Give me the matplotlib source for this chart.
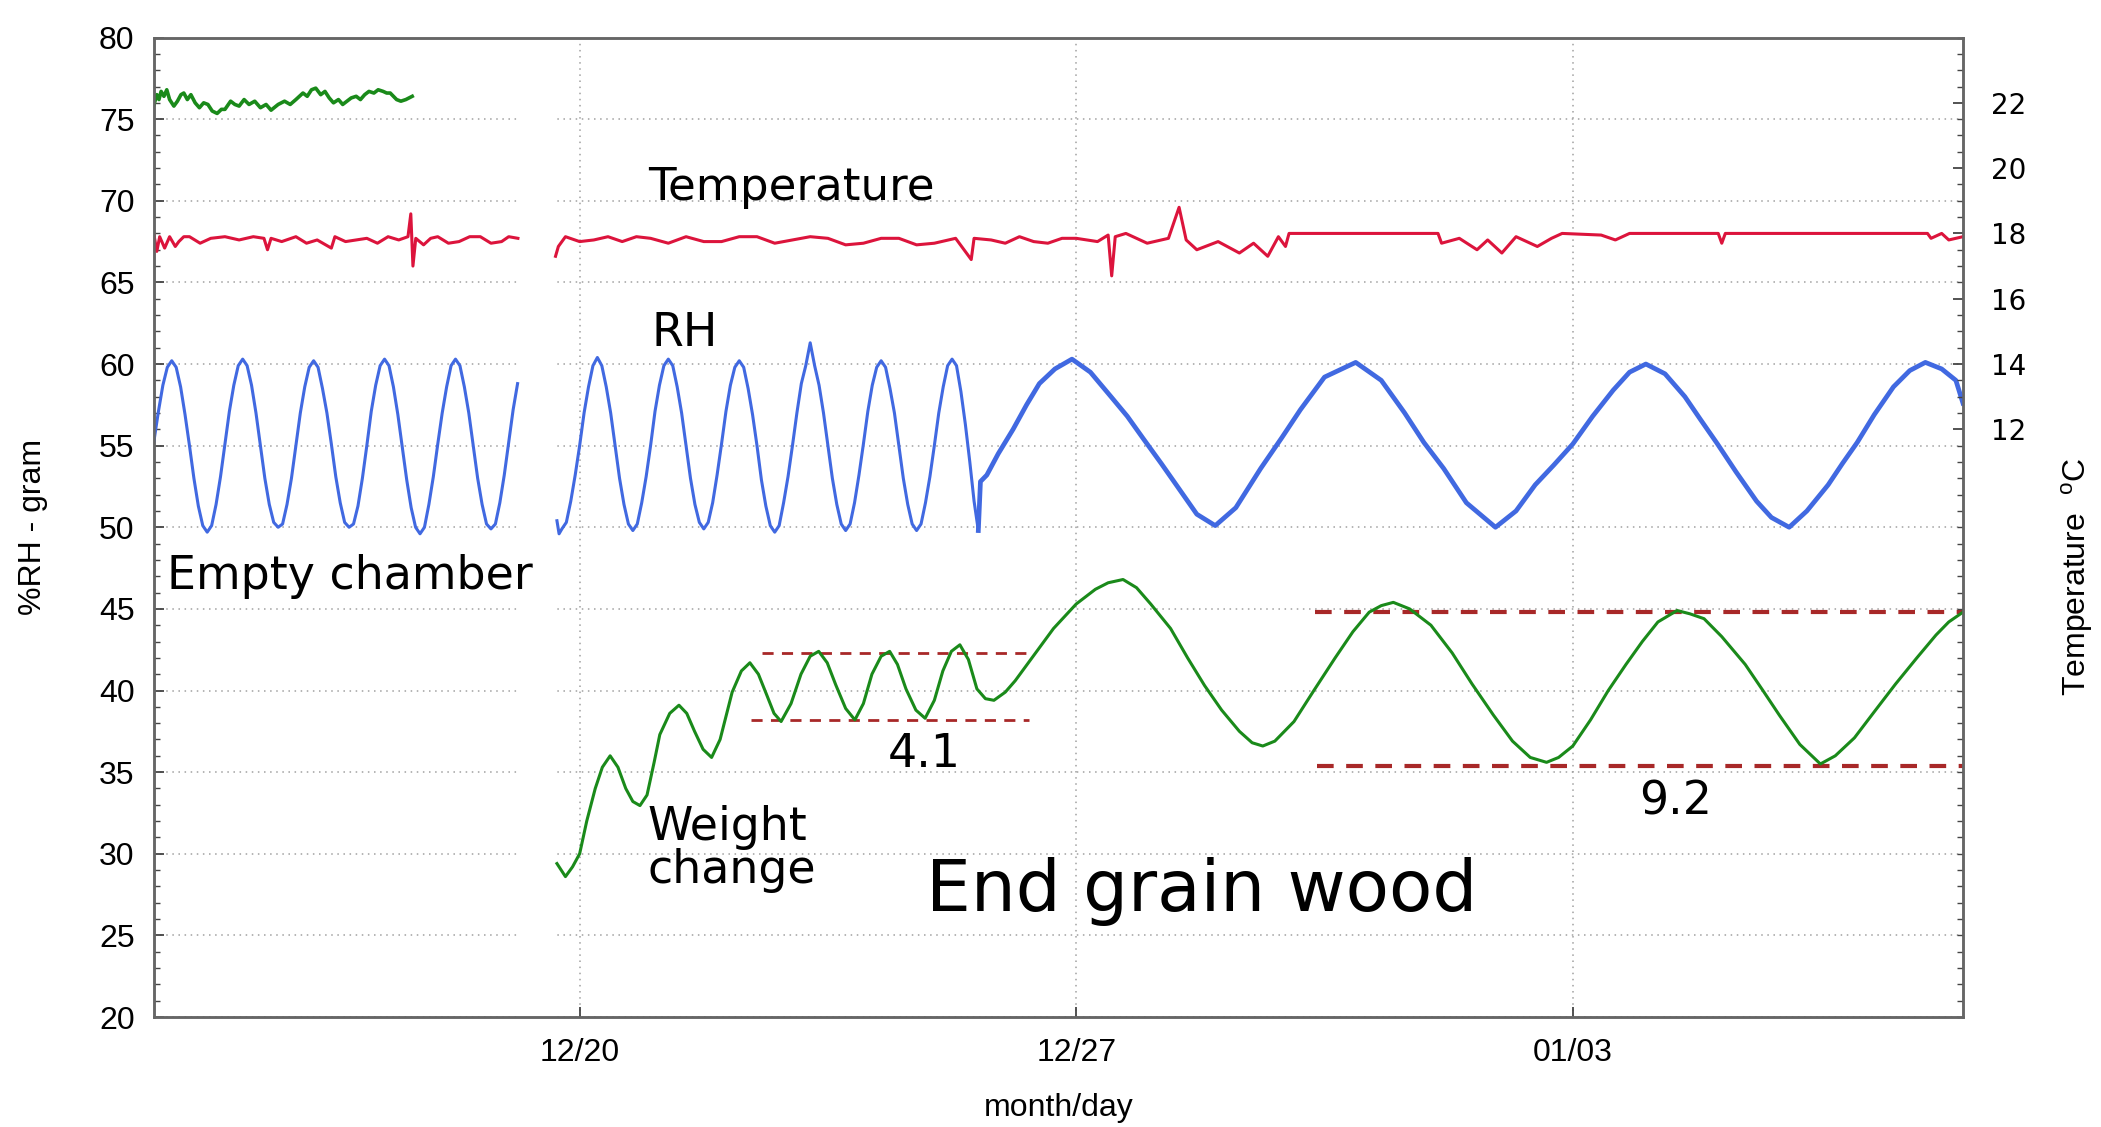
import numpy as np
import pandas as pd
import matplotlib
matplotlib.use("Agg")
import matplotlib.pyplot as plt
import matplotlib.dates as mdates
from matplotlib.ticker import MultipleLocator

plt.rcParams['mathtext.fontset'] = 'custom'
plt.rcParams['mathtext.rm'] = 'Liberation Sans'

# time axis: days after 12/14 00:00
START = pd.Timestamp('2016-12-14')
XMAX = 25.5

# ---- RH (%), fast daily cycles, read every 1.5 h ----
rh1_t = np.arange(0, 5.126, 0.0625)
rh1_v = [55.3, 57.1, 58.7, 59.8, 60.2, 59.8, 58.6, 56.9, 55.0, 53.0, 51.3, 50.1, 49.7, 50.1, 51.4, 53.1,
         55.1, 57.1, 58.7, 59.9, 60.3, 59.9, 58.7, 57.0, 55.0, 53.0, 51.4, 50.3, 50.0, 50.2, 51.4, 53.0,
         55.0, 57.0, 58.6, 59.8, 60.2, 59.8, 58.5, 57.0, 55.1, 53.1, 51.5, 50.3, 50.0, 50.2, 51.3, 53.0,
         55.0, 57.1, 58.7, 59.9, 60.3, 59.9, 58.6, 56.9, 54.9, 52.9, 51.2, 50.0, 49.6, 50.0, 51.4, 53.1,
         55.1, 57.0, 58.6, 59.9, 60.3, 59.9, 58.6, 57.0, 55.0, 53.0, 51.4, 50.2, 49.9, 50.2, 51.5, 53.2,
         55.2, 57.2, 58.8]

rh2_t = [5.68, 5.71] + list(np.arange(5.75, 11.501, 0.0625)) + [11.56, 11.62]
rh2_v = [50.4, 49.6,
         49.9, 50.3, 51.6, 53.2,
         55.0, 57.0, 58.6, 59.9, 60.4, 59.9, 58.6, 57.0, 55.0, 53.0, 51.4, 50.2, 49.8, 50.2, 51.5, 53.1,
         55.0, 57.1, 58.7, 59.9, 60.3, 59.9, 58.6, 57.0, 55.0, 53.0, 51.4, 50.3, 49.9, 50.3, 51.5, 53.2,
         55.1, 57.1, 58.7, 59.8, 60.2, 59.8, 58.5, 56.9, 55.0, 52.9, 51.3, 50.1, 49.7, 50.1, 51.5, 53.1,
         55.0, 57.0, 58.8, 59.9, 61.3, 59.9, 58.7, 57.0, 55.0, 53.0, 51.4, 50.2, 49.8, 50.2, 51.5, 53.2,
         55.1, 57.1, 58.7, 59.8, 60.2, 59.8, 58.5, 57.0, 55.0, 53.0, 51.4, 50.2, 49.8, 50.2, 51.5, 53.1,
         55.0, 57.0, 58.6, 59.9, 60.3, 59.9, 58.3, 56.3, 54.0,
         51.6, 49.8]

# ---- RH (%), slow 4-day cycles ----
rh3_t = [11.62, 11.65, 11.74, 11.9, 12.11, 12.3, 12.48, 12.7, 12.94, 13.2,
         13.49, 13.72, 13.95, 14.2, 14.41, 14.7, 14.96, 15.25, 15.6, 15.9,
         16.16, 16.5, 16.94, 17.3, 17.63, 17.9, 18.18, 18.5, 18.91, 19.2,
         19.47, 19.73, 20.0, 20.28, 20.57, 20.8, 21.03, 21.3, 21.58, 21.8,
         22.04, 22.3, 22.59, 22.8, 23.05, 23.3, 23.6, 23.8, 24.01, 24.25,
         24.52, 24.75, 24.97, 25.2, 25.4, 25.5]
rh3_v = [49.8, 52.8, 53.2, 54.5, 56.0, 57.5, 58.8, 59.7, 60.3, 59.5,
         58.0, 56.8, 55.4, 53.9, 52.6, 50.8, 50.1, 51.2, 53.6, 55.5,
         57.2, 59.2, 60.1, 59.0, 57.0, 55.2, 53.6, 51.5, 50.0, 51.0,
         52.6, 53.8, 55.1, 56.8, 58.4, 59.5, 60.0, 59.4, 58.0, 56.6,
         55.1, 53.4, 51.6, 50.6, 50.0, 51.0, 52.6, 53.9, 55.2, 56.9,
         58.6, 59.6, 60.1, 59.7, 59.0, 57.6]

# ---- weight change (gram), end grain wood ----
w_t = [5.68, 5.80, 5.9, 6.0, 6.1, 6.22, 6.32, 6.43, 6.54, 6.65,
       6.75, 6.85, 6.95, 7.05, 7.13, 7.27, 7.4, 7.51, 7.62, 7.74,
       7.86, 7.98, 8.15, 8.28, 8.40, 8.52, 8.64, 8.74, 8.84, 8.98,
       9.12, 9.25, 9.37, 9.49, 9.61, 9.75, 9.88, 10.0, 10.12, 10.25,
       10.37, 10.48, 10.6, 10.74, 10.87, 11.0, 11.12, 11.24, 11.36, 11.48,
       11.6, 11.72, 11.84, 12.0, 12.14, 12.41, 12.68, 13.0, 13.27, 13.45,
       13.66, 13.85, 14.05, 14.33, 14.57, 14.81, 15.05, 15.3, 15.48, 15.63,
       15.8, 16.07, 16.35, 16.65, 16.9, 17.13, 17.3, 17.47, 17.7, 18.0,
       18.3, 18.58, 18.88, 19.15, 19.4, 19.63, 19.8, 20.0, 20.25, 20.5,
       20.75, 20.98, 21.2, 21.47, 21.65, 21.85, 22.1, 22.43, 22.68, 22.91,
       23.2, 23.49, 23.7, 23.97, 24.25, 24.55, 24.85, 25.12, 25.3, 25.5]
w_v = [29.4, 28.6, 29.2, 30.0, 32.0, 34.0, 35.3, 36.0, 35.3, 34.0,
       33.2, 32.95, 33.6, 35.6, 37.3, 38.6, 39.1, 38.6, 37.5, 36.4,
       35.9, 37.0, 39.9, 41.2, 41.7, 41.0, 39.7, 38.6, 38.1, 39.2,
       41.0, 42.1, 42.4, 41.7, 40.35, 38.9, 38.2, 39.2, 41.0, 42.1,
       42.4, 41.6, 40.1, 38.8, 38.3, 39.4, 41.2, 42.4, 42.8, 41.9,
       40.1, 39.5, 39.4, 39.9, 40.6, 42.2, 43.8, 45.3, 46.2, 46.6,
       46.8, 46.3, 45.3, 43.8, 42.0, 40.3, 38.8, 37.5, 36.8, 36.6,
       36.9, 38.1, 40.0, 42.0, 43.6, 44.8, 45.2, 45.4, 45.0, 44.0,
       42.3, 40.4, 38.5, 36.9, 35.9, 35.6, 35.9, 36.6, 38.2, 40.0,
       41.6, 43.0, 44.2, 44.9, 44.7, 44.4, 43.3, 41.6, 40.0, 38.5,
       36.7, 35.5, 36.0, 37.1, 38.7, 40.4, 42.0, 43.4, 44.2, 44.8]

# ---- weight, empty chamber ----
e_t = [0.0, 0.04, 0.07, 0.1, 0.14, 0.18, 0.22, 0.28, 0.33, 0.38,
       0.42, 0.47, 0.52, 0.58, 0.64, 0.7, 0.76, 0.82, 0.89, 0.95,
       1.0, 1.08, 1.14, 1.2, 1.27, 1.34, 1.42, 1.5, 1.58, 1.65,
       1.75, 1.84, 1.92, 2.0, 2.1, 2.16, 2.22, 2.28, 2.35, 2.41,
       2.47, 2.53, 2.6, 2.66, 2.72, 2.78, 2.85, 2.91, 2.97, 3.03,
       3.1, 3.16, 3.23, 3.28, 3.33, 3.42, 3.48, 3.55, 3.64]
e_v = [75.9, 76.5, 76.2, 76.7, 76.4, 76.8, 76.2, 75.8, 76.1, 76.5,
       76.6, 76.2, 76.5, 76.0, 75.7, 76.0, 75.9, 75.5, 75.35, 75.6,
       75.6, 76.1, 75.9, 75.8, 76.2, 75.9, 76.1, 75.7, 75.9, 75.55,
       75.9, 76.1, 75.9, 76.2, 76.6, 76.4, 76.8, 76.9, 76.5, 76.7,
       76.3, 76.0, 76.2, 75.9, 76.1, 76.3, 76.4, 76.2, 76.5, 76.7,
       76.6, 76.8, 76.7, 76.6, 76.6, 76.2, 76.1, 76.2, 76.4]

# ---- temperature (deg C) ----
t1_t = [0.0, 0.04, 0.08, 0.15, 0.22, 0.3, 0.35, 0.42, 0.5, 0.65,
        0.8, 1.0, 1.2, 1.4, 1.55, 1.6, 1.65, 1.8, 2.0, 2.15,
        2.3, 2.5, 2.55, 2.7, 3.0, 3.15, 3.3, 3.45, 3.58, 3.62,
        3.65, 3.69, 3.8, 3.9, 4.0, 4.15, 4.3, 4.45, 4.6, 4.75,
        4.9, 5.0, 5.13]
t1_v = [17.95, 17.45, 17.9, 17.55, 17.9, 17.6, 17.75, 17.9, 17.9, 17.7,
        17.85, 17.9, 17.8, 17.9, 17.85, 17.5, 17.85, 17.75, 17.9, 17.7,
        17.8, 17.55, 17.9, 17.75, 17.85, 17.7, 17.9, 17.8, 17.9, 18.6,
        17.0, 17.85, 17.65, 17.85, 17.9, 17.7, 17.75, 17.9, 17.9, 17.7,
        17.75, 17.9, 17.85]
t2_t = [5.66, 5.70, 5.8, 6.0, 6.2, 6.4, 6.6, 6.8, 7.0, 7.25,
        7.5, 7.75, 8.0, 8.25, 8.5, 8.75, 9.0, 9.25, 9.5, 9.75,
        10.0, 10.25, 10.5, 10.75, 11.0, 11.3, 11.52, 11.56, 11.8, 12.0,
        12.2, 12.4, 12.6, 12.8, 13.0, 13.3, 13.45, 13.5, 13.55, 13.7,
        14.0, 14.3, 14.45, 14.55, 14.7, 15.0, 15.3, 15.5, 15.7, 15.85,
        15.95, 16.0, 18.1, 18.15, 18.4, 18.65, 18.8, 19.0, 19.2, 19.5,
        19.7, 19.85, 20.4, 20.6, 20.8, 22.05, 22.1, 22.15, 25.0, 25.05,
        25.2, 25.3, 25.5]
t2_v = [17.3, 17.6, 17.9, 17.75, 17.8, 17.9, 17.75, 17.9, 17.85, 17.7,
        17.9, 17.75, 17.75, 17.9, 17.9, 17.7, 17.8, 17.9, 17.85, 17.65,
        17.7, 17.85, 17.85, 17.65, 17.7, 17.85, 17.2, 17.85, 17.8, 17.7,
        17.9, 17.75, 17.7, 17.85, 17.85, 17.75, 17.95, 16.7, 17.9, 18.0,
        17.7, 17.85, 18.8, 17.8, 17.5, 17.75, 17.4, 17.7, 17.3, 17.9,
        17.6, 18.0, 18.0, 17.7, 17.85, 17.5, 17.8, 17.4, 17.9, 17.6,
        17.85, 18.0, 17.95, 17.8, 18.0, 18.0, 17.7, 18.0, 18.0, 17.85,
        18.0, 17.8, 17.9]

# amplitude markers (gram)
amp_small = (42.28, 38.17)
amp_large = (44.84, 35.4)


def d(days):
    return START + pd.to_timedelta(np.asarray(days, dtype=float), unit='D')


def d1(day):
    return START + pd.Timedelta(days=day)


fig = plt.figure(figsize=(21.01, 11.27), dpi=100)
ax = fig.add_axes([0.0733, 0.0976, 0.8610, 0.8691])
ax2 = ax.twinx()

blue = '#4169e1'
red = '#dc143c'
green = '#1a8a1a'
dash_red = '#a82828'

ax.plot(d(rh1_t), rh1_v, color=blue, lw=2.2, zorder=3)
ax.plot(d(rh2_t), rh2_v, color=blue, lw=2.2, zorder=3)
ax.plot(d(rh3_t), rh3_v, color=blue, lw=3.4, zorder=3)
ax.plot(d(w_t), w_v, color=green, lw=2.2, zorder=3)
ax.plot(d(e_t), e_v, color=green, lw=2.6, zorder=3)

ax2.plot(d(t1_t), t1_v, color=red, lw=2.2)
ax2.plot(d(t2_t), t2_v, color=red, lw=2.2)

# amplitude lines
ax.plot([d1(8.57), d1(12.38)], [amp_small[0]] * 2, color=dash_red, lw=2, ls=(0, (4, 3)), zorder=2.5)
ax.plot([d1(8.42), d1(12.33)], [amp_small[1]] * 2, color=dash_red, lw=2, ls=(0, (4, 3)), zorder=2.5)
ax.plot([d1(16.36), d1(XMAX)], [amp_large[0]] * 2, color=dash_red, lw=3, ls=(0, (4, 3)), zorder=2.5)
ax.plot([d1(16.40), d1(XMAX)], [amp_large[1]] * 2, color=dash_red, lw=3, ls=(0, (4, 3)), zorder=2.5)

# gap in the record
ax.axvspan(d1(5.13), d1(5.66), color='white', zorder=1, lw=0)

ax.set_xlim(d1(0), d1(XMAX))
ax.set_ylim(20, 80)
ax2.set_ylim(-6, 24)

ax.xaxis.set_major_locator(mdates.WeekdayLocator(byweekday=mdates.TU))
ax.xaxis.set_major_formatter(mdates.DateFormatter('%m/%d'))
ax.yaxis.set_major_locator(MultipleLocator(5))
ax.yaxis.set_minor_locator(MultipleLocator(1))
ax2.set_yticks([12, 14, 16, 18, 20, 22])
ax2.yaxis.set_minor_locator(MultipleLocator(0.5))

ax.grid(True, which='major', color='#a0a0a0', lw=1.1, ls=(0, (1, 3)))
ax.set_axisbelow(True)

ax.tick_params(axis='y', which='major', direction='in', length=7, width=1.3, color='#444444',
               labelsize=23, pad=14, labelfontfamily='Liberation Sans', right=False)
ax.tick_params(axis='y', which='minor', direction='in', length=4, width=1.0, color='#444444', right=False)
ax.tick_params(axis='x', which='major', direction='in', length=7, width=1.3, color='#444444',
               labelsize=23, pad=15, labelfontfamily='Liberation Sans', top=False)
ax2.tick_params(axis='y', which='major', direction='in', length=7, width=1.3, color='#444444',
                labelsize=20, pad=20)
ax2.tick_params(axis='y', which='minor', direction='in', length=4, width=1.0, color='#444444')

for a in (ax, ax2):
    for s in a.spines.values():
        s.set_color('#666666')
        s.set_linewidth(1.8)

ax.set_xlabel('month/day', fontsize=23, family='Liberation Sans')
ax.xaxis.set_label_coords(0.5, -0.078)
ax.xaxis.label.set_va('top')
ax.set_ylabel('%RH - gram', fontsize=23, family='Liberation Sans')
ax.yaxis.set_label_coords(-0.067, 0.5)
ax.yaxis.label.set_va('center')
fig.text(0.9886, 0.488, 'Temperature  $^{\\mathrm{o}}$C', rotation=90, ha='center', va='center',
         fontsize=23, family='Liberation Sans')

# annotations
ax.text(d1(6.96), 70.8, 'Temperature', fontsize=32.5, ha='left', va='center')
ax.text(d1(7.02), 61.9, 'RH', fontsize=33, ha='left', va='center')
ax.text(d1(0.19), 47.0, 'Empty chamber', fontsize=33, ha='left', va='center')
ax.text(d1(6.96), 30.3, 'Weight\nchange', fontsize=33, ha='left', va='center', linespacing=0.95)
ax.text(d1(10.88), 27.7, 'End grain wood', fontsize=51, ha='left', va='center')
ax.text(d1(10.35), 36.1, '4.1', fontsize=33, ha='left', va='center')
ax.text(d1(20.94), 33.2, '9.2', fontsize=33, ha='left', va='center')

fig.savefig('out.png', dpi=100)
